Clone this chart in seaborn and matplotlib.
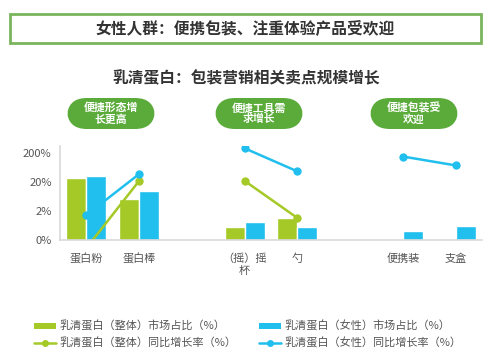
import pandas as pd
import matplotlib.pyplot as plt
import seaborn as sns
from matplotlib.patches import FancyBboxPatch, Rectangle, Patch
from matplotlib.lines import Line2D

# 数据
categories = ["蛋白粉", "蛋白棒", "（摇）摇\n杯", "勺", "便携装", "支盒"]
slots = [0, 1, 3, 4, 6, 7]           # 类别所在的位置（组之间留空）
groups = ["形态", "形态", "工具", "工具", "包装", "包装"]
share_all = [27, 5.0, 0.84, 1.5, None, None]
share_female = [33, 9.6, 1.25, 0.88, 0.6, 0.95]
growth_all = [-0.6, 22, 22, 1.5, None, None]
growth_female = [1.7, 38, 300, 47, 155, 76]
yticks = [0, 2, 20, 200]
ytick_labels = ["0%", "2%", "20%", "200%"]

lbl_share_all = "乳清蛋白（整体）市场占比（%）"
lbl_share_fem = "乳清蛋白（女性）市场占比（%）"
lbl_grow_all = "乳清蛋白（整体）同比增长率（%）"
lbl_grow_fem = "乳清蛋白（女性）同比增长率（%）"

green = "#a5c926"
blue = "#21bfee"
pill_green = "#5aab3a"
gray = "#555555"

sns.set_style("white")
plt.rcParams["font.family"] = ["Noto Sans CJK SC", "DejaVu Sans"]

order = ["蛋白粉", "蛋白棒", "gap1", "（摇）摇\n杯", "勺", "gap2", "便携装", "支盒"]

bars = pd.DataFrame({
    "cat": categories * 2,
    "value": share_all + share_female,
    "series": [lbl_share_all] * 6 + [lbl_share_fem] * 6,
}).dropna()

lines = pd.DataFrame({
    "pos": slots * 2,
    "value": growth_all + growth_female,
    "series": [lbl_grow_all] * 6 + [lbl_grow_fem] * 6,
    "group": groups * 2,
}).dropna()

fig = plt.figure(figsize=(4.95, 3.6), dpi=100)
ax = fig.add_axes([60 / 495, 1 - 239.5 / 360, 422 / 495, 93.5 / 360])

sns.barplot(data=bars, x="cat", y="value", hue="series", order=order,
            hue_order=[lbl_share_all, lbl_share_fem],
            palette=[green, blue], width=0.76, saturation=1, ax=ax, legend=False)
sns.lineplot(data=lines, x="pos", y="value", hue="series", units="group",
             estimator=None, hue_order=[lbl_grow_all, lbl_grow_fem],
             palette=[green, blue], marker="o", markersize=6, markeredgewidth=0,
             linewidth=1.8, ax=ax, legend=False)

ax.set_yscale("symlog", linthresh=2, linscale=0.9)
ax.set_ylim(0, 360)
ax.set_xlim(-0.5, 7.5)
ax.set_yticks(yticks)
ax.set_yticklabels(ytick_labels)
ax.yaxis.set_minor_locator(plt.NullLocator())
ax.set_xticks(slots)
ax.set_xticklabels(categories)
ax.tick_params(axis="both", length=0, labelsize=8, labelcolor=gray, pad=10)
ax.tick_params(axis="y", pad=6)
ax.set_xlabel("")
ax.set_ylabel("")
for s in ["top", "right"]:
    ax.spines[s].set_visible(False)
for s in ["left", "bottom"]:
    ax.spines[s].set_color("#d9d9d9")
    ax.spines[s].set_linewidth(1.2)

# 标题框
fig.patches.append(Rectangle((10 / 495, 1 - 43 / 360), 471 / 495, 29 / 360,
                             transform=fig.transFigure, fill=False,
                             ec="#7ab55c", lw=2))
fig.text(245 / 495, 1 - 29 / 360, "女性人群：便携包装、注重体验产品受欢迎",
         ha="center", va="center", fontsize=11.3, fontweight="bold", color="#333333")
fig.text(246 / 495, 1 - 78 / 360, "乳清蛋白：包装营销相关卖点规模增长",
         ha="center", va="center", fontsize=11.3, fontweight="bold", color="#333333")

# 绿色标签
pills = [(67, "便捷形态增\n长更高"), (215, "便捷工具需\n求增长"), (370, "便捷包装受\n欢迎")]
for x0, txt in pills:
    fig.patches.append(FancyBboxPatch((x0 / 495, 1 - 129 / 360), 88 / 495, 31 / 360,
                                      boxstyle="round,pad=0,rounding_size=0.04",
                                      transform=fig.transFigure, fc=pill_green,
                                      ec="none", mutation_aspect=495 / 360))
    fig.text((x0 + 44) / 495, 1 - 113.5 / 360, txt, ha="center", va="center",
             fontsize=7.8, fontweight="bold", color="white", linespacing=1.1)

# 图例
handles = [
    Patch(fc=green, ec="none"),
    Line2D([], [], color=green, marker="o", markersize=5, markeredgewidth=0, lw=1.8),
    Patch(fc=blue, ec="none"),
    Line2D([], [], color=blue, marker="o", markersize=5, markeredgewidth=0, lw=1.8),
]
labels = [lbl_share_all, lbl_grow_all, lbl_share_fem, lbl_grow_fem]
leg = fig.legend(handles, labels, ncol=2, loc="upper left",
                 bbox_to_anchor=(24 / 495, 1 - 311 / 360), frameon=False,
                 fontsize=8, handlelength=2.0, handleheight=0.5,
                 handletextpad=0.3, columnspacing=2.0, labelspacing=0.45)
for t in leg.get_texts():
    t.set_color(gray)

plt.savefig("out.png", dpi=100)
plt.close()
